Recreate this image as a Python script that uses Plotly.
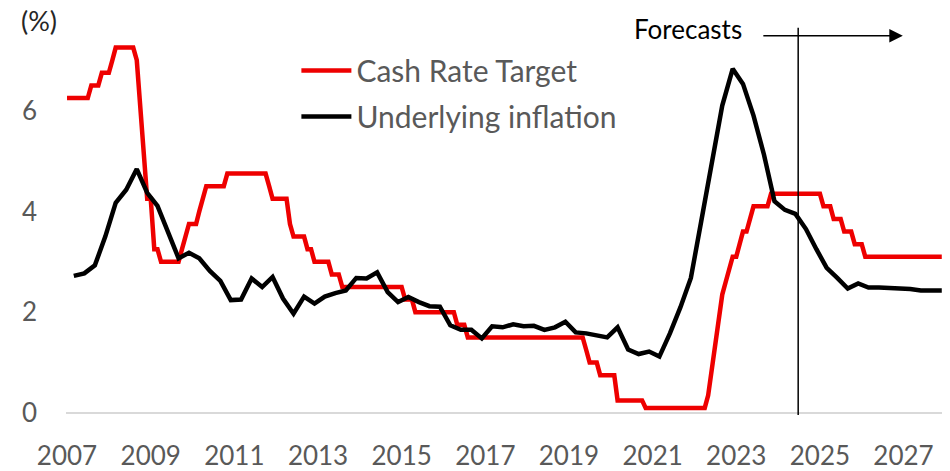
import pandas as pd
import plotly.graph_objects as go

# Cash rate target, monthly from Jan 2007 (forecast path from 2025)
cash_rate = [
    6.25, 6.25, 6.25, 6.25, 6.25, 6.25, 6.25, 6.50, 6.50, 6.50, 6.75, 6.75,  # 2007
    6.75, 7.00, 7.25, 7.25, 7.25, 7.25, 7.25, 7.25, 7.00, 6.00, 5.25, 4.25,  # 2008
    4.25, 3.25, 3.25, 3.00, 3.00, 3.00, 3.00, 3.00, 3.00, 3.25, 3.50, 3.75,  # 2009
    3.75, 3.75, 4.00, 4.25, 4.50, 4.50, 4.50, 4.50, 4.50, 4.50, 4.75, 4.75,  # 2010
    4.75, 4.75, 4.75, 4.75, 4.75, 4.75, 4.75, 4.75, 4.75, 4.75, 4.50, 4.25,  # 2011
    4.25, 4.25, 4.25, 4.25, 3.75, 3.50, 3.50, 3.50, 3.50, 3.25, 3.25, 3.00,  # 2012
    3.00, 3.00, 3.00, 3.00, 2.75, 2.75, 2.75, 2.50, 2.50, 2.50, 2.50, 2.50,  # 2013
    2.50, 2.50, 2.50, 2.50, 2.50, 2.50, 2.50, 2.50, 2.50, 2.50, 2.50, 2.50,  # 2014
    2.50, 2.25, 2.25, 2.25, 2.00, 2.00, 2.00, 2.00, 2.00, 2.00, 2.00, 2.00,  # 2015
    2.00, 2.00, 2.00, 2.00, 1.75, 1.75, 1.75, 1.50, 1.50, 1.50, 1.50, 1.50,  # 2016
    1.50, 1.50, 1.50, 1.50, 1.50, 1.50, 1.50, 1.50, 1.50, 1.50, 1.50, 1.50,  # 2017
    1.50, 1.50, 1.50, 1.50, 1.50, 1.50, 1.50, 1.50, 1.50, 1.50, 1.50, 1.50,  # 2018
    1.50, 1.50, 1.50, 1.50, 1.50, 1.25, 1.00, 1.00, 1.00, 0.75, 0.75, 0.75,  # 2019
    0.75, 0.75, 0.25, 0.25, 0.25, 0.25, 0.25, 0.25, 0.25, 0.25, 0.10, 0.10,  # 2020
    0.10, 0.10, 0.10, 0.10, 0.10, 0.10, 0.10, 0.10, 0.10, 0.10, 0.10, 0.10,  # 2021
    0.10, 0.10, 0.10, 0.10, 0.35, 0.85, 1.35, 1.85, 2.35, 2.60, 2.85, 3.10,  # 2022
    3.10, 3.35, 3.60, 3.60, 3.85, 4.10, 4.10, 4.10, 4.10, 4.10, 4.35, 4.35,  # 2023
    4.35, 4.35, 4.35, 4.35, 4.35, 4.35, 4.35, 4.35, 4.35, 4.35, 4.35, 4.35,  # 2024
    4.35, 4.10, 4.10, 4.10, 3.85, 3.85, 3.85, 3.60, 3.60, 3.60, 3.35, 3.35,  # 2025
    3.35, 3.10, 3.10, 3.10, 3.10, 3.10, 3.10, 3.10, 3.10, 3.10, 3.10, 3.10,  # 2026
    3.10, 3.10, 3.10, 3.10, 3.10, 3.10, 3.10, 3.10, 3.10, 3.10, 3.10, 3.10,  # 2027
]

# Underlying inflation (year-ended, %), quarterly from Mar 2007
inflation = [
    2.72, 2.77, 2.93, 3.50,  # 2007
    4.17, 4.43, 4.84, 4.37,  # 2008
    4.11, 3.60, 3.07, 3.18,  # 2009
    3.07, 2.82, 2.62, 2.24,  # 2010
    2.25, 2.67, 2.50, 2.70,  # 2011
    2.27, 1.97, 2.31, 2.17,  # 2012
    2.31, 2.38, 2.43, 2.68,  # 2013
    2.67, 2.79, 2.40, 2.20,  # 2014
    2.30, 2.20, 2.12, 2.11,  # 2015
    1.74, 1.65, 1.65, 1.48,  # 2016
    1.72, 1.70, 1.76, 1.72,  # 2017
    1.73, 1.65, 1.70, 1.81,  # 2018
    1.60, 1.58, 1.54, 1.50,  # 2019
    1.70, 1.26, 1.17, 1.22,  # 2020
    1.12, 1.58, 2.10, 2.68,  # 2021
    3.80, 4.94, 6.10, 6.83,  # 2022
    6.53, 5.90, 5.12, 4.20,  # 2023
    4.03, 3.95, 3.65, 3.25,  # 2024
    2.88, 2.68, 2.47, 2.57,  # 2025
    2.49, 2.49, 2.48, 2.48,  # 2026
    2.46, 2.43, 2.43, 2.43,  # 2027
]

meses = pd.date_range("2007-01-01", periods=len(cash_rate), freq="MS")
trimestres = pd.date_range("2007-03-01", periods=len(inflation), freq="3MS")

FUENTE = "Lato"
GRIS = "#595959"

fig = go.Figure()
fig.add_trace(go.Scatter(x=meses, y=cash_rate, mode="lines", name="Cash Rate Target",
                         legendgroup="a", line=dict(color="#EE0000", width=4.5)))
fig.add_trace(go.Scatter(x=trimestres, y=inflation, mode="lines", name="Underlying inflation",
                         legendgroup="b", line=dict(color="black", width=4.5)))

# linea de inicio de las previsiones
fig.add_shape(type="line", xref="x", yref="paper", x0="2024-06-25", x1="2024-06-25",
              y0=-0.005, y1=1.011, line=dict(color="black", width=1.5))

fig.add_annotation(x="2026-12-26", y=0.99, xref="x", yref="paper", ax=-141, ay=0,
                   axref="pixel", ayref="pixel", showarrow=True, arrowhead=2,
                   arrowsize=1.8, arrowwidth=1.5, arrowcolor="black", text="")
fig.add_annotation(x="2021-11-10", y=1.008, xref="x", yref="paper", text="Forecasts",
                   xanchor="center", yanchor="middle", showarrow=False,
                   font=dict(family=FUENTE, size=26, color="black"))
fig.add_annotation(x=-0.031, y=1.03, xref="paper", yref="paper", text="(%)",
                   xanchor="center", yanchor="middle", showarrow=False,
                   font=dict(family=FUENTE, size=27, color="#262626"))

fig.update_xaxes(type="date", range=["2006-12-23", "2027-12-03"],
                 tick0="2007-01-01", dtick="M24", tickformat="%Y",
                 showgrid=False, showline=False, ticks="", ticklabelstandoff=25,
                 automargin=False,
                 tickfont=dict(family=FUENTE, size=26, color=GRIS))
fig.update_yaxes(range=[0, 7.56], tickvals=[0, 2, 4, 6], showgrid=False,
                 zeroline=True, zerolinecolor="#D9D9D9", zerolinewidth=1.5,
                 ticks="", ticklabelstandoff=28, automargin=False,
                 tickfont=dict(family=FUENTE, size=26, color=GRIS))

fig.update_layout(
    width=950, height=471,
    margin=dict(l=66, r=8, t=32, b=58),
    paper_bgcolor="white", plot_bgcolor="white",
    font=dict(family=FUENTE),
    showlegend=True,
    legend=dict(x=0.263, y=0.967, xanchor="left", yanchor="top",
                font=dict(family=FUENTE, size=30, color=GRIS),
                itemwidth=50, tracegroupgap=4, bgcolor="rgba(0,0,0,0)"),
)

# quitar el margen por defecto del body para que el grafico quede en (0,0)
fig.write_html("out.html", config={"displayModeBar": False},
               post_script="document.body.style.margin='0';")
